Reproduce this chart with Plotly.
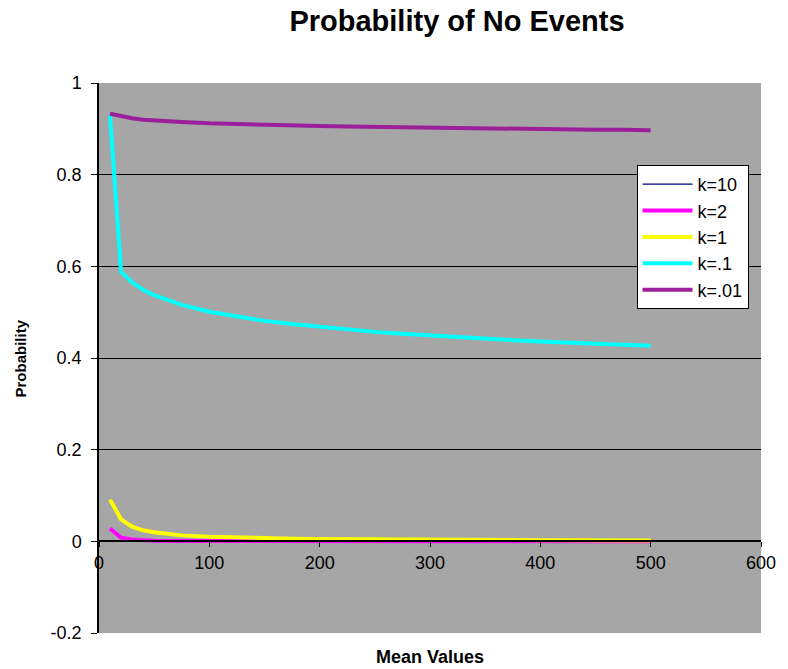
import plotly.graph_objects as go

mean_values = [10, 20, 30, 40, 50, 75, 100, 125, 150, 175, 200, 225, 250, 275,
               300, 325, 350, 375, 400, 425, 450, 475, 500]

p_k10 = [0.001, 0.0, 0.0, 0.0, 0.0, 0.0, 0.0, 0.0, 0.0, 0.0, 0.0, 0.0, 0.0, 0.0,
         0.0, 0.0, 0.0, 0.0, 0.0, 0.0, 0.0, 0.0, 0.0]
p_k2 = [0.028, 0.008, 0.004, 0.002, 0.0015, 0.0007, 0.0004, 0.0003, 0.0002, 0.0001,
        0.0001, 0.0001, 0.0001, 0.0, 0.0, 0.0, 0.0, 0.0, 0.0, 0.0, 0.0, 0.0, 0.0]
p_k1 = [0.091, 0.048, 0.032, 0.024, 0.020, 0.013, 0.010, 0.008, 0.0066, 0.0057,
        0.005, 0.0044, 0.004, 0.0036, 0.0033, 0.0031, 0.0028, 0.0027, 0.0025,
        0.0023, 0.0022, 0.0021, 0.002]
p_k01 = [0.93, 0.588, 0.565, 0.549, 0.537, 0.516, 0.501, 0.490, 0.481, 0.474,
         0.468, 0.462, 0.457, 0.453, 0.449, 0.445, 0.442, 0.439, 0.436, 0.434,
         0.431, 0.429, 0.427]
p_k001 = [0.933, 0.927, 0.923, 0.920, 0.918, 0.915, 0.912, 0.910, 0.908, 0.907,
          0.906, 0.905, 0.904, 0.903, 0.902, 0.901, 0.901, 0.900, 0.899, 0.899,
          0.898, 0.898, 0.897]

series = [
    ("k=10", p_k10, "#000080", 1.2),
    ("k=2", p_k2, "#FF00FF", 4),
    ("k=1", p_k1, "#FFFF00", 4),
    ("k=.1", p_k01, "#00FFFF", 4),
    ("k=.01", p_k001, "#9B1F9B", 4),
]

y_ticks = [-0.2, 0, 0.2, 0.4, 0.6, 0.8, 1]
y_tick_text = ["-0.2", "0", "0.2", "0.4", "0.6", "0.8", "1"]
x_ticks = [0, 100, 200, 300, 400, 500, 600]

FONT = "Arial, Liberation Sans, sans-serif"

fig = go.Figure()
for name, vals, color, width in series:
    fig.add_trace(go.Scatter(x=mean_values, y=vals, mode="lines", name=name,
                             line=dict(color=color, width=width)))

W, H = 788, 669
ml, mr, mt, mb = 99, 23, 83, 36
plot_h = H - mt - mb

fig.update_layout(
    width=W, height=H,
    margin=dict(l=ml, r=mr, t=mt, b=mb),
    paper_bgcolor="white",
    plot_bgcolor="#A6A6A6",
    font=dict(family=FONT, size=18, color="black"),
    title=dict(text="<b>Probability of No Events</b>", x=457 / W, xanchor="center",
               y=1 - 21 / H, yanchor="middle", font=dict(size=29, family=FONT)),
    showlegend=True,
    legend=dict(x=0.812, y=0.851, xanchor="left", yanchor="top",
                bgcolor="white", bordercolor="black", borderwidth=1,
                font=dict(size=18, family=FONT),
                itemwidth=50),
    xaxis=dict(range=[0, 600], tickvals=x_ticks, showgrid=False, zeroline=False,
               showline=True, linecolor="black", linewidth=1.5,
               ticks="outside", ticklen=5, tickcolor="black",
               anchor="free", position=1 / 6,
               tickfont=dict(size=18)),
    yaxis=dict(range=[-0.2, 1], tickvals=y_ticks, ticktext=y_tick_text,
               showgrid=False, zeroline=False,
               showline=True, linecolor="black", linewidth=1.5,
               ticks="outside", ticklen=6, tickcolor="black",
               ticklabelstandoff=6,
               tickfont=dict(size=18)),
    yaxis2=dict(range=[-0.2, 1], tickvals=[0.2, 0.4, 0.6, 0.8], overlaying="y",
                showgrid=True, gridcolor="black", gridwidth=1.2,
                showticklabels=False, zeroline=False, showline=False),
)
# invisible trace to activate grid axis
fig.add_trace(go.Scatter(x=[None], y=[None], yaxis="y2", showlegend=False,
                         hoverinfo="skip"))

fig.add_annotation(text="<b>Mean Values</b>", x=0.5, xref="paper",
                   y=-(657 - (H - mb)) / plot_h, yref="paper",
                   xanchor="center", yanchor="middle", showarrow=False,
                   font=dict(size=18, family=FONT))
fig.add_annotation(text="<b>Probability</b>", textangle=-90,
                   x=-(ml - 20) / (W - ml - mr), xref="paper",
                   y=0.5, yref="paper",
                   xanchor="center", yanchor="middle", showarrow=False,
                   font=dict(size=15, family=FONT))

fig.write_html("out.html", config={"displayModeBar": False},
               post_script="document.body.style.margin='0px';")
